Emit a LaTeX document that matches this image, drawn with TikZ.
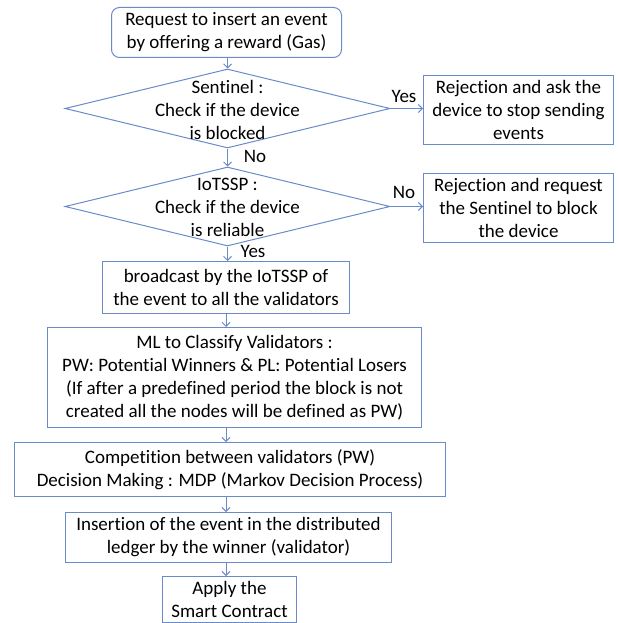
\documentclass[tikz,border=0pt]{standalone}
\usepackage{fontspec}
\setmainfont{Carlito}[Ligatures=NoCommon]
\usetikzlibrary{arrows.meta,shapes.geometric}
\definecolor{ln}{HTML}{6A8BC8}
\begin{document}
\begin{tikzpicture}[x=1pt,y=-1pt,
  txt/.style={font=\fontsize{19}{23}\selectfont, align=center, inner sep=0pt},
  box/.style={txt, draw=ln, line width=1pt, anchor=north west},
  dia/.style={draw=ln, line width=1pt, shape=diamond, inner sep=0pt, minimum width=325pt, minimum height=79pt},
  arr/.style={draw=ln, line width=0.9pt, -{Straight Barb[length=4pt,width=8pt]}},
  lab/.style={font=\fontsize{19}{23}\selectfont, inner sep=0pt}
]
\useasboundingbox (0,0) rectangle (618,623);

\node[box, rounded corners=8pt, minimum width=230pt, minimum height=50pt] (req) at (111,7)
  {Request to insert an event\\by offering a reward (Gas)};

\node[dia] (d1) at (227.5,108.5) {};
\node[txt] (d1t) at (227.5,109.5) {Sentinel :\\Check if the device\\is blocked};

\node[dia] (d2) at (227.5,206.5) {};
\node[txt] (d2t) at (227.5,207.5) {IoTSSP :\\Check if the device\\is reliable};

\node[box, minimum width=190pt, minimum height=69pt] (rejA) at (423,75)
  {Rejection and ask the\\device to stop sending\\events};
\node[box, minimum width=190pt, minimum height=69pt] (rejB) at (423,173)
  {Rejection and request\\the Sentinel to block\\the device};

\node[box, minimum width=247pt, minimum height=52pt] (bc) at (102,261)
  {broadcast by the IoTSSP of\\the event to all the validators};
\node[box, minimum width=374pt, minimum height=100pt] (ml) at (47,327)
  {ML to Classify Validators :\\PW: Potential Winners \& PL: Potential Losers\\(If after a predefined period the block is not\\created all the nodes will be defined as PW)};
\node[box, minimum width=431pt, minimum height=54pt] (comp) at (14,442)
  {Competition between validators (PW)\\Decision Making : MDP (Markov Decision Process)};
\node[box, minimum width=326pt, minimum height=50pt] (ins) at (65,512)
  {Insertion of the event in the distributed\\ledger by the winner (validator)};
\node[box, minimum width=134pt, minimum height=46pt] (app) at (162,576)
  {Apply the\\Smart Contract};

% connectors
\draw[arr] (req.south -| d1.north) -- (d1.north);
\draw[arr] (d1.south) -- (d2.north);
\draw[arr] (d2.south) -- (d2.south |- bc.north);
\draw[arr] (d1.east) -- (d1.east -| rejA.west);
\draw[arr] (d2.east) -- (d2.east -| rejB.west);
\draw[arr] (bc.south) -- (bc.south |- ml.north);
\draw[arr] (bc.south |- ml.south) -- (bc.south |- comp.north);
\draw[arr] (bc.south |- comp.south) -- (bc.south |- ins.north);
\draw[arr] (bc.south |- ins.south) -- (bc.south |- app.north);

% labels
\node[lab] (yes1) at (404,96) {Yes};
\node[lab] (no1) at (404,192) {No};
\node[lab] (no2) at (255,156) {No};
\node[lab] (yes2) at (253,251) {Yes};
\end{tikzpicture}
\end{document}
